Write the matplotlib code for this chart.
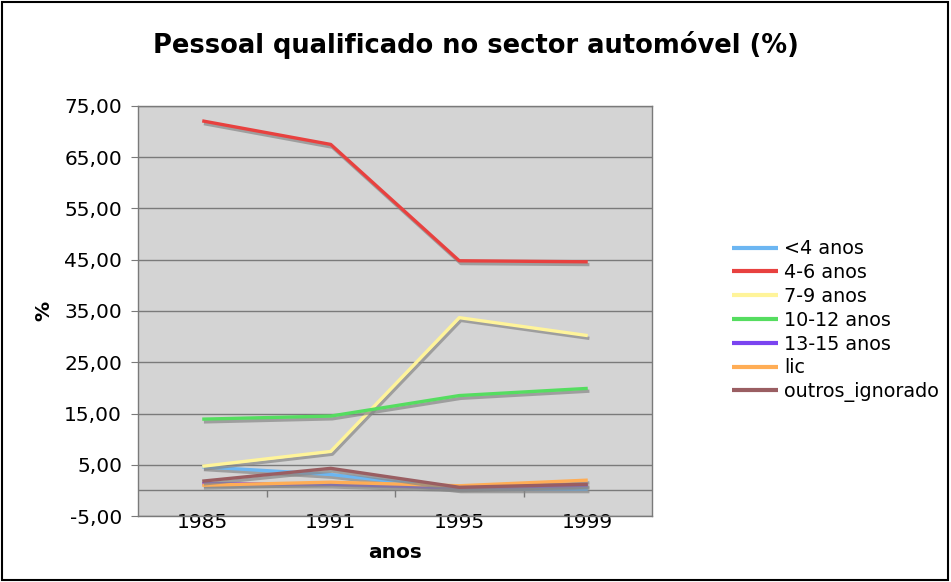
import matplotlib
matplotlib.use("Agg")
import matplotlib.pyplot as plt
import matplotlib.patheffects as pe
from matplotlib.ticker import FuncFormatter, FixedLocator
from matplotlib.patches import Rectangle

# Dados (%)
anos = ["1985", "1991", "1995", "1999"]
menos4 = [4.6, 3.1, 0.3, 0.3]
a4_6 = [72.1, 67.5, 44.8, 44.6]
a7_9 = [4.7, 7.6, 33.7, 30.2]
a10_12 = [13.9, 14.5, 18.5, 19.9]
a13_15 = [1.3, 1.2, 0.5, 1.0]
lic = [1.0, 1.6, 0.9, 2.0]
outros = [1.8, 4.3, 0.6, 1.2]

series = [
    ("<4 anos", menos4, "#6cb6f2"),
    ("4-6 anos", a4_6, "#e8413f"),
    ("7-9 anos", a7_9, "#fff49a"),
    ("10-12 anos", a10_12, "#55dd60"),
    ("13-15 anos", a13_15, "#7a44f0"),
    ("lic", lic, "#ffad55"),
    ("outros_ignorado", outros, "#9a5e62"),
]

fig = plt.figure(figsize=(9.51, 5.82), dpi=100)
ax = fig.add_axes([138 / 951, 66 / 582, 514 / 951, 410 / 582])
ax.set_facecolor("#d4d4d4")

x = range(len(anos))
sombra = [pe.SimpleLineShadow(offset=(1.2, -2.0), shadow_color="#888888", alpha=0.7), pe.Normal()]
for nome, vals, cor in series:
    ax.plot(x, vals, color=cor, lw=2.4, label=nome, path_effects=sombra, solid_capstyle="butt")

ax.set_xlim(-0.5, 3.5)
ax.set_ylim(-5, 75)
ax.yaxis.set_major_locator(FixedLocator(list(range(-5, 76, 10))))
ax.yaxis.set_major_formatter(FuncFormatter(lambda v, p: f"{v:.2f}".replace(".", ",")))
ax.grid(axis="y", color="#7a7a7a", lw=1.0)
ax.set_axisbelow(True)

# eixo das categorias no zero
ax.axhline(0, color="#7a7a7a", lw=1.0, zorder=1)
ax.vlines([0.5, 1.5, 2.5], -1.2, 0, color="#7a7a7a", lw=1.0, zorder=1)
ax.set_xticks(list(x))
ax.set_xticklabels(anos)
ax.tick_params(axis="x", length=0, pad=-2, labelsize=14.5)
ax.tick_params(axis="y", direction="out", length=5, color="#7a7a7a", labelsize=14.5, pad=6.5)

for s in ax.spines.values():
    s.set_color("#7a7a7a")
    s.set_linewidth(1.0)

fig.text(0.5, 1 - 45 / 582, "Pessoal qualificado no sector automóvel (%)",
         ha="center", va="center", fontsize=18.5, fontweight="bold")
ax.set_xlabel("anos", fontsize=14.5, fontweight="bold", labelpad=8)
ax.set_ylabel("%", fontsize=14.5, fontweight="bold", labelpad=8)

leg = ax.legend(loc="upper left", bbox_to_anchor=(717 / 951, 1 - 224 / 582),
                bbox_transform=fig.transFigure, frameon=False, fontsize=13.8,
                handlelength=2.4, labelspacing=0.25, handletextpad=0.3, borderpad=0.3)
for h in leg.get_lines():
    h.set_path_effects([])
    h.set_linewidth(3)

fig.patches.append(Rectangle((0.002, 0.003), 0.995, 0.994, transform=fig.transFigure,
                             fill=False, edgecolor="black", lw=1.5))

fig.savefig("out.png", dpi=100)
